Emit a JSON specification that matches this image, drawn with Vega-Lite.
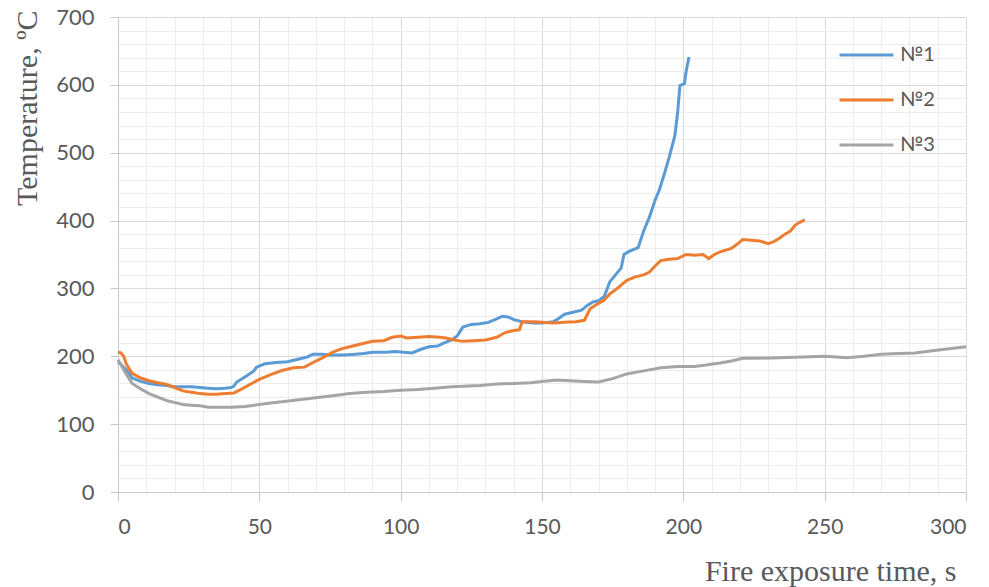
{
  "$schema": "https://vega.github.io/schema/vega-lite/v6.json",
  "autosize": {"type": "none"},
  "padding": {"left": 118, "top": 17, "right": 23, "bottom": 95},
  "width": 848,
  "height": 475,
  "background": "white",
  "config": {"view": {"stroke": null}},
  "data": {"values": [
      {"series":"№1","t":0,"T":192},{"series":"№1","t":1,"T":188},{"series":"№1","t":3,"T":180},{"series":"№1","t":5,"T":168},{"series":"№1","t":8,"T":163},{"series":"№1","t":11,"T":160},{"series":"№1","t":14,"T":158},{"series":"№1","t":17,"T":157},{"series":"№1","t":20,"T":155},{"series":"№1","t":23,"T":155},{"series":"№1","t":26,"T":155},{"series":"№1","t":29,"T":154},{"series":"№1","t":32,"T":153},{"series":"№1","t":35,"T":152},{"series":"№1","t":38,"T":153},{"series":"№1","t":40,"T":154},{"series":"№1","t":41,"T":156},{"series":"№1","t":42,"T":162},{"series":"№1","t":45,"T":170},{"series":"№1","t":48,"T":178},{"series":"№1","t":49,"T":184},{"series":"№1","t":52,"T":189},{"series":"№1","t":56,"T":191},{"series":"№1","t":60,"T":192},{"series":"№1","t":64,"T":196},{"series":"№1","t":67,"T":199},{"series":"№1","t":69,"T":203},{"series":"№1","t":72,"T":203},{"series":"№1","t":75,"T":202},{"series":"№1","t":80,"T":202},{"series":"№1","t":84,"T":203},{"series":"№1","t":87,"T":204},{"series":"№1","t":90,"T":206},{"series":"№1","t":95,"T":206},{"series":"№1","t":98,"T":207},{"series":"№1","t":101,"T":206},{"series":"№1","t":104,"T":205},{"series":"№1","t":107,"T":210},{"series":"№1","t":110,"T":214},{"series":"№1","t":113,"T":215},{"series":"№1","t":115,"T":219},{"series":"№1","t":118,"T":224},{"series":"№1","t":120,"T":230},{"series":"№1","t":122,"T":243},{"series":"№1","t":125,"T":247},{"series":"№1","t":128,"T":248},{"series":"№1","t":131,"T":250},{"series":"№1","t":134,"T":255},{"series":"№1","t":136,"T":259},{"series":"№1","t":138,"T":258},{"series":"№1","t":140,"T":254},{"series":"№1","t":143,"T":251},{"series":"№1","t":147,"T":249},{"series":"№1","t":150,"T":249},{"series":"№1","t":154,"T":251},{"series":"№1","t":156,"T":256},{"series":"№1","t":158,"T":262},{"series":"№1","t":161,"T":265},{"series":"№1","t":164,"T":268},{"series":"№1","t":166,"T":275},{"series":"№1","t":168,"T":280},{"series":"№1","t":170,"T":282},{"series":"№1","t":172,"T":288},{"series":"№1","t":174,"T":310},{"series":"№1","t":176,"T":320},{"series":"№1","t":178,"T":330},{"series":"№1","t":179,"T":350},{"series":"№1","t":181,"T":355},{"series":"№1","t":184,"T":360},{"series":"№1","t":186,"T":385},{"series":"№1","t":188,"T":405},{"series":"№1","t":190,"T":430},{"series":"№1","t":191.5,"T":445},{"series":"№1","t":193,"T":465},{"series":"№1","t":195,"T":493},{"series":"№1","t":197,"T":525},{"series":"№1","t":198,"T":560},{"series":"№1","t":198.8,"T":599},{"series":"№1","t":200.4,"T":602},{"series":"№1","t":201,"T":620},{"series":"№1","t":202,"T":641},
      {"series":"№2","t":0,"T":206},{"series":"№2","t":1,"T":205},{"series":"№2","t":2,"T":200},{"series":"№2","t":3,"T":188},{"series":"№2","t":5,"T":175},{"series":"№2","t":8,"T":168},{"series":"№2","t":11,"T":164},{"series":"№2","t":14,"T":161},{"series":"№2","t":17,"T":159},{"series":"№2","t":20,"T":154},{"series":"№2","t":23,"T":149},{"series":"№2","t":26,"T":147},{"series":"№2","t":29,"T":145},{"series":"№2","t":32,"T":144},{"series":"№2","t":35,"T":144},{"series":"№2","t":38,"T":145},{"series":"№2","t":41,"T":146},{"series":"№2","t":43,"T":150},{"series":"№2","t":46,"T":157},{"series":"№2","t":50,"T":166},{"series":"№2","t":54,"T":173},{"series":"№2","t":58,"T":179},{"series":"№2","t":62,"T":183},{"series":"№2","t":66,"T":184},{"series":"№2","t":70,"T":193},{"series":"№2","t":73,"T":199},{"series":"№2","t":76,"T":206},{"series":"№2","t":79,"T":211},{"series":"№2","t":82,"T":214},{"series":"№2","t":86,"T":218},{"series":"№2","t":90,"T":222},{"series":"№2","t":94,"T":223},{"series":"№2","t":97,"T":228},{"series":"№2","t":100,"T":230},{"series":"№2","t":102,"T":227},{"series":"№2","t":106,"T":228},{"series":"№2","t":110,"T":229},{"series":"№2","t":114,"T":228},{"series":"№2","t":116,"T":227},{"series":"№2","t":119,"T":224},{"series":"№2","t":122,"T":222},{"series":"№2","t":126,"T":223},{"series":"№2","t":130,"T":224},{"series":"№2","t":134,"T":228},{"series":"№2","t":137,"T":235},{"series":"№2","t":140,"T":238},{"series":"№2","t":142,"T":239},{"series":"№2","t":143,"T":251},{"series":"№2","t":147,"T":251},{"series":"№2","t":150,"T":250},{"series":"№2","t":154,"T":249},{"series":"№2","t":158,"T":250},{"series":"№2","t":162,"T":251},{"series":"№2","t":165,"T":253},{"series":"№2","t":167,"T":270},{"series":"№2","t":170,"T":278},{"series":"№2","t":172,"T":283},{"series":"№2","t":174,"T":292},{"series":"№2","t":176,"T":298},{"series":"№2","t":178,"T":305},{"series":"№2","t":180,"T":312},{"series":"№2","t":183,"T":317},{"series":"№2","t":186,"T":320},{"series":"№2","t":188,"T":324},{"series":"№2","t":190,"T":333},{"series":"№2","t":192,"T":341},{"series":"№2","t":195,"T":343},{"series":"№2","t":198,"T":344},{"series":"№2","t":201,"T":350},{"series":"№2","t":204,"T":349},{"series":"№2","t":207,"T":350},{"series":"№2","t":209,"T":344},{"series":"№2","t":211,"T":350},{"series":"№2","t":213,"T":354},{"series":"№2","t":217,"T":359},{"series":"№2","t":219,"T":365},{"series":"№2","t":221,"T":372},{"series":"№2","t":224,"T":371},{"series":"№2","t":227,"T":370},{"series":"№2","t":230,"T":366},{"series":"№2","t":232,"T":369},{"series":"№2","t":234,"T":374},{"series":"№2","t":236,"T":380},{"series":"№2","t":238,"T":385},{"series":"№2","t":239.5,"T":393},{"series":"№2","t":241,"T":397},{"series":"№2","t":243,"T":401},
      {"series":"№3","t":0,"T":195},{"series":"№3","t":1,"T":188},{"series":"№3","t":3,"T":173},{"series":"№3","t":5,"T":160},{"series":"№3","t":8,"T":152},{"series":"№3","t":11,"T":145},{"series":"№3","t":14,"T":140},{"series":"№3","t":17,"T":135},{"series":"№3","t":20,"T":132},{"series":"№3","t":23,"T":129},{"series":"№3","t":26,"T":128},{"series":"№3","t":29,"T":127},{"series":"№3","t":32,"T":125},{"series":"№3","t":35,"T":125},{"series":"№3","t":40,"T":125},{"series":"№3","t":45,"T":126},{"series":"№3","t":50,"T":129},{"series":"№3","t":54,"T":131},{"series":"№3","t":58,"T":133},{"series":"№3","t":64,"T":136},{"series":"№3","t":70,"T":139},{"series":"№3","t":76,"T":142},{"series":"№3","t":82,"T":145},{"series":"№3","t":88,"T":147},{"series":"№3","t":94,"T":148},{"series":"№3","t":100,"T":150},{"series":"№3","t":106,"T":151},{"series":"№3","t":112,"T":153},{"series":"№3","t":118,"T":155},{"series":"№3","t":122,"T":156},{"series":"№3","t":128,"T":157},{"series":"№3","t":134,"T":159},{"series":"№3","t":140,"T":160},{"series":"№3","t":146,"T":161},{"series":"№3","t":150,"T":163},{"series":"№3","t":155,"T":165},{"series":"№3","t":160,"T":164},{"series":"№3","t":165,"T":163},{"series":"№3","t":170,"T":162},{"series":"№3","t":175,"T":167},{"series":"№3","t":180,"T":174},{"series":"№3","t":184,"T":177},{"series":"№3","t":188,"T":180},{"series":"№3","t":192,"T":183},{"series":"№3","t":198,"T":185},{"series":"№3","t":204,"T":185},{"series":"№3","t":208,"T":187},{"series":"№3","t":213,"T":190},{"series":"№3","t":217,"T":193},{"series":"№3","t":221,"T":197},{"series":"№3","t":226,"T":197},{"series":"№3","t":234,"T":198},{"series":"№3","t":242,"T":199},{"series":"№3","t":250,"T":200},{"series":"№3","t":258,"T":198},{"series":"№3","t":264,"T":200},{"series":"№3","t":270,"T":203},{"series":"№3","t":276,"T":204},{"series":"№3","t":282,"T":205},{"series":"№3","t":288,"T":208},{"series":"№3","t":294,"T":211},{"series":"№3","t":300,"T":214}
  ]},
  "layer": [
    {
      "mark": {"type": "line", "opacity": 0},
      "encoding": {
        "x": {"field": "t", "type": "quantitative", "scale": {"domain": [0, 300], "nice": false},
          "axis": {"orient": "top", "values": [10,20,30,40,60,70,80,90,110,120,130,140,160,170,180,190,210,220,230,240,260,270,280,290], "labels": false, "ticks": false, "domain": false, "title": null, "grid": true, "gridColor": "#EDEDED", "gridWidth": 1}},
        "y": {"field": "T", "type": "quantitative", "scale": {"domain": [0, 700], "nice": false},
          "axis": {"orient": "right", "values": [20,40,60,80,120,140,160,180,220,240,260,280,320,340,360,380,420,440,460,480,520,540,560,580,620,640,660,680], "labels": false, "ticks": false, "domain": false, "title": null, "grid": true, "gridColor": "#EDEDED", "gridWidth": 1}},
        "detail": {"field": "series", "type": "nominal"}
      }
    },
    {
      "mark": {"type": "line", "strokeWidth": 3, "interpolate": "linear"},
      "encoding": {
        "x": {"field": "t", "type": "quantitative", "scale": {"domain": [0, 300], "nice": false},
          "axis": {"orient": "bottom", "values": [0,50,100,150,200,250,300], "grid": true, "gridColor": "#D9D9D9", "gridWidth": 1,
            "domain": true, "domainColor": "#C8C8C8", "domainWidth": 1, "ticks": true, "tickSize": 9, "tickColor": "#C8C8C8",
            "labelFont": "Lato", "labelFontSize": 21, "labelColor": "#595959", "labelPadding": 15,
            "title": "Fire exposure time, s", "titleFont": "Liberation Serif", "titleFontSize": 30, "titleFontWeight": "normal", "titleColor": "#595959",
            "titleAnchor": "end", "titleAlign": "right", "titleBaseline": "alphabetic", "titleX": 838, "titleY": 88}},
        "y": {"field": "T", "type": "quantitative", "scale": {"domain": [0, 700], "nice": false},
          "axis": {"orient": "left", "values": [0,100,200,300,400,500,600,700], "grid": true, "gridColor": "#D9D9D9", "gridWidth": 1,
            "domain": true, "domainColor": "#C8C8C8", "domainWidth": 1, "ticks": true, "tickSize": 8, "tickColor": "#C8C8C8",
            "labelFont": "Lato", "labelFontSize": 22, "labelColor": "#595959", "labelPadding": 16,
            "title": "Temperature, ºC", "titleFont": "Liberation Serif", "titleFontSize": 30, "titleFontWeight": "normal", "titleColor": "#595959",
            "titleAngle": -90, "titleAlign": "right", "titleBaseline": "middle", "titleX": -91, "titleY": -7}},
        "color": {"field": "series", "type": "nominal",
          "scale": {"domain": ["№1", "№2", "№3"], "range": ["#5B9BD5", "#ED7D31", "#A5A5A5"]},
          "legend": {"orient": "none", "legendX": 720, "legendY": 28, "title": null, "padding": 0,
            "symbolType": "stroke", "symbolSize": 2916, "symbolStrokeWidth": 3, "clipHeight": 20, "rowPadding": 25,
            "labelFont": "Lato", "labelFontSize": 20, "labelColor": "#595959", "labelOffset": 5}}
      }
    }
  ],
  "resolve": {"axis": {"x": "independent", "y": "independent"}}
}
